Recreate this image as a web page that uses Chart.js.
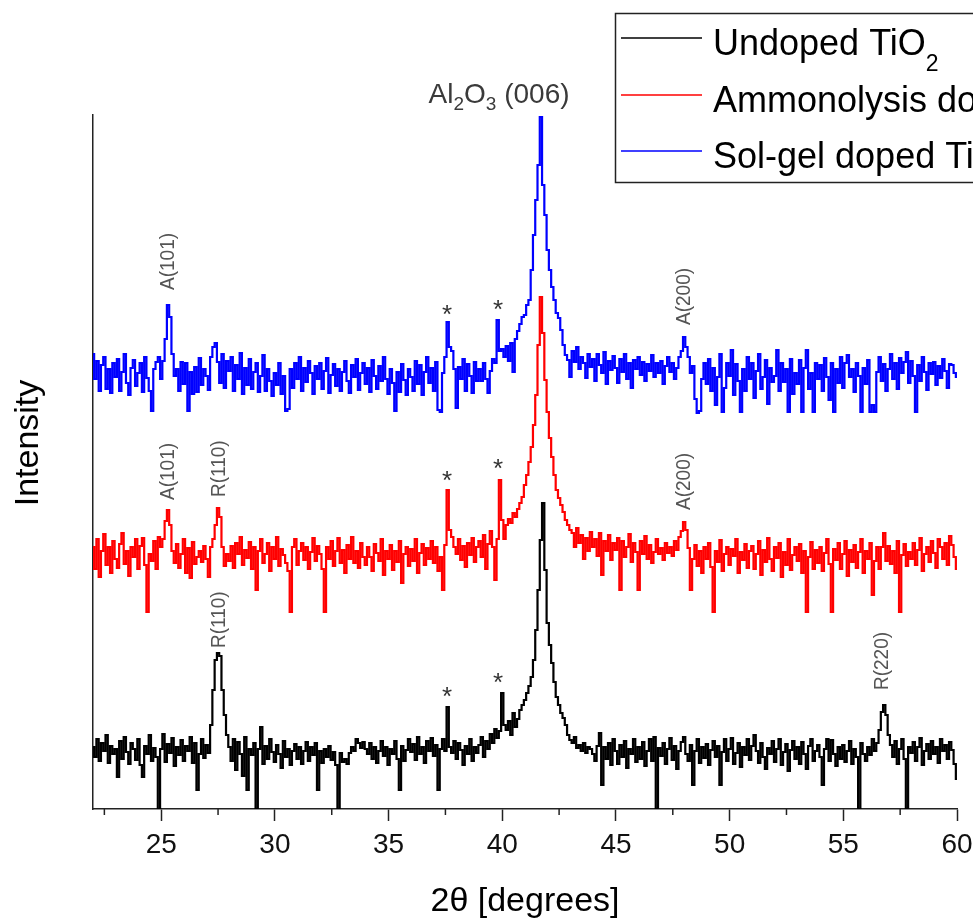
<!DOCTYPE html>
<html><head><meta charset="utf-8">
<script src="https://cdn.jsdelivr.net/npm/chart.js@4.4.0/dist/chart.umd.min.js"></script>
<style>html,body{margin:0;padding:0;background:#fff;}canvas{display:block;}</style>
</head><body>
<canvas id="c" width="973" height="920"></canvas>
<script>
// 2θ sampling grid (degrees), 0.1° steps from 22 to 60
const twoTheta = Array.from({length: 381}, (_, i) => Math.round((22 + i * 0.1) * 10) / 10);

const seriesNames = ['Undoped TiO2', 'Ammonolysis doped TiO2', 'Sol-gel doped TiO2'];

// Undoped TiO2 (black, bottom trace)
const undoped = [
 62, 52, 70, 48, 66, 58, 74, 46, 63, 55,
 60, 32, 68, 50, 72, 57, 45, 66, 60, 49,
 70, 44, 32, 63, 55, 74, 48, 61, 52, 0,
 60, 75, 47, 65, 56, 71, 43, 62, 54, 69,
 48, 63, 58, 72, 46, 66, 19, 55, 70, 51,
 64, 56, 84, 119, 149, 156, 153, 119, 94, 74,
 62, 48, 70, 39, 67, 55, 33, 72, 19, 60,
 54, 66, 0, 60, 82, 45, 63, 50, 70, 57,
 47, 64, 55, 41, 68, 52, 60, 44, 58, 65,
 50, 62, 45, 58, 67, 48, 62, 54, 66, 19,
 58, 46, 60, 52, 63, 49, 57, 44, 0, 56,
 47, 50, 45, 56, 62, 58, 70, 66, 61, 67,
 60, 55, 66, 50, 62, 46, 58, 68, 53, 62,
 44, 60, 55, 68, 50, 19, 63, 48, 59, 70,
 57, 65, 49, 72, 55, 62, 46, 68, 58, 71,
 53, 64, 19, 60, 70, 58, 102, 62, 56, 68,
 50, 66, 59, 44, 63, 55, 70, 48, 62, 56,
 64, 72, 52, 68, 60, 75, 66, 80, 71, 78,
 116, 84, 79, 88, 74, 96, 82, 90, 99, 104,
 109, 116, 123, 132, 149, 179, 219, 269, 306, 239,
 186, 164, 146, 127, 112, 104, 96, 91, 84, 74,
 69, 66, 72, 61, 64, 58, 66, 56, 62, 60,
 55, 48, 63, 76, 24, 62, 50, 66, 44, 70,
 58, 45, 64, 52, 68, 41, 60, 55, 70, 47,
 62, 50, 67, 43, 58, 70, 48, 72, 0, 61,
 53, 66, 45, 60, 71, 49, 63, 40, 58, 67,
 72, 55, 48, 64, 24, 58, 70, 46, 62, 51,
 65, 44, 59, 68, 52, 63, 24, 57, 70, 48,
 60, 71, 45, 56, 66, 42, 62, 54, 70, 49,
 63, 74, 58, 46, 66, 52, 40, 61, 55, 68,
 47, 60, 70, 44, 57, 65, 38, 59, 68, 50,
 62, 45, 67, 55, 40, 63, 70, 48, 58, 64,
 52, 24, 60, 70, 48, 69, 55, 43, 62, 50,
 64, 47, 58, 68, 45, 60, 52, 0, 66, 55,
 48, 62, 54, 70, 58, 66, 79, 97, 104, 94,
 74, 64, 52, 68, 45, 60, 70, 50, 0, 62,
 56, 67, 48, 62, 71, 44, 58, 65, 50, 68,
 55, 62, 46, 70, 58, 64, 50, 67, 59, 45,
 30
];

// Ammonolysis doped TiO2 (red, middle trace)
const ammonolysis = [
 262, 240, 270, 232, 258, 275, 244, 262, 236, 268,
 250, 241, 265, 276, 245, 258, 233, 262, 252, 270,
 240, 263, 271, 244, 197, 255, 248, 268, 240, 272,
 262, 270, 288, 299, 284, 258, 246, 265, 241, 255,
 270, 236, 261, 231, 267, 245, 252, 258, 247, 263,
 250, 232, 262, 270, 284, 301, 292, 262, 243, 255,
 248, 263, 241, 266, 255, 272, 244, 259, 251, 267,
 240, 262, 219, 258, 270, 246, 255, 266, 238, 262,
 250, 272, 243, 260, 254, 246, 238, 197, 262, 270,
 244, 258, 266, 249, 262, 240, 257, 271, 248, 263,
 255, 240, 197, 262, 250, 268, 243, 258, 271, 246,
 259, 236, 264, 250, 272, 246, 258, 241, 266, 252,
 244, 262, 252, 238, 265, 256, 248, 270, 234, 258,
 250, 264, 239, 258, 247, 268, 226, 255, 262, 243,
 260, 248, 270, 236, 256, 265, 244, 261, 250, 268,
 246, 262, 238, 252, 219, 264, 319, 279, 272, 262,
 255, 270, 249, 263, 242, 266, 254, 271, 247, 262,
 268, 252, 274, 240, 265, 278, 262, 229, 270, 329,
 289, 270, 284, 290, 286, 296, 292, 300, 306, 312,
 324, 334, 347, 362, 384, 414, 464, 512, 476, 429,
 397, 371, 352, 334, 319, 311, 304, 297, 289, 284,
 279, 276, 262, 281, 266, 274, 250, 271, 258, 277,
 262, 270, 253, 276, 234, 268, 258, 274, 249, 266,
 259, 271, 219, 268, 252, 262, 275, 247, 266, 257,
 219, 268, 255, 273, 250, 264, 246, 257, 270, 255,
 261, 249, 266, 256, 262, 253, 268, 259, 272, 278,
 287, 279, 261, 219, 250, 264, 243, 258, 236, 262,
 250, 266, 242, 197, 258, 247, 269, 238, 255, 262,
 244, 260, 253, 270, 236, 257, 249, 265, 241, 258,
 263, 240, 255, 268, 234, 259, 247, 271, 250, 238,
 262, 251, 266, 232, 257, 244, 270, 239, 254, 262,
 248, 265, 236, 258, 197, 252, 267, 240, 259, 246,
 262, 238, 256, 270, 245, 197, 260, 249, 266, 240,
 255, 268, 233, 259, 247, 264, 241, 257, 270, 236,
 258, 250, 266, 214, 248, 262, 240, 262, 276, 248,
 263, 245, 258, 236, 268, 197, 254, 265, 243, 257,
 250, 266, 244, 259, 271, 238, 255, 262, 247, 268,
 256, 241, 270, 262, 250, 266, 244, 273, 264, 252,
 240
];

// Sol-gel doped TiO2 (blue, top trace)
const solgel = [
 455, 430, 448, 418, 444, 452, 420, 440, 416, 446,
 432, 450, 418, 437, 455, 426, 414, 441, 449, 423,
 436, 446, 417, 452, 431, 418, 398, 440, 447, 452,
 430, 448, 470, 504, 492, 455, 433, 440, 418, 447,
 425, 446, 398, 437, 415, 442, 417, 451, 424, 440,
 433, 419, 452, 462, 466, 447, 426, 455, 421, 448,
 438, 452, 418, 444, 430, 456, 415, 441, 424, 450,
 420, 437, 446, 417, 433, 454, 418, 440, 428, 413,
 436, 424, 446, 415, 433, 398, 400, 440, 421, 446,
 430, 452, 418, 441, 427, 448, 436, 415, 443, 430,
 446, 420, 438, 451, 416, 434, 445, 423, 440, 418,
 437, 448, 428, 416, 444, 432, 450, 419, 436, 446,
 425, 441, 417, 449, 433, 420, 443, 428, 452, 430,
 415, 440, 426, 398, 437, 417, 445, 429, 414, 440,
 432, 418, 448, 425, 444, 414, 437, 452, 426, 441,
 418, 447, 399, 397, 436, 452, 487, 462, 458, 440,
 401, 442, 430, 450, 418, 445, 433, 416, 447, 428,
 440, 428, 446, 430, 416, 438, 450, 446, 489, 458,
 460, 452, 463, 448, 466, 437, 470, 478, 485, 492,
 494, 504, 509, 539, 574, 609, 644, 692, 624, 594,
 559, 539, 522, 509, 496, 491, 479, 464, 454, 449,
 432, 458, 447, 462, 440, 452, 446, 431, 455, 442,
 450, 428, 455, 444, 436, 457, 425, 448, 439, 453,
 441, 426, 450, 437, 455, 430, 446, 421, 449, 440,
 452, 434, 447, 428, 445, 438, 454, 432, 446, 436,
 448, 425, 443, 452, 437, 446, 430, 441, 452, 458,
 472, 462, 452, 436, 443, 410, 396, 398, 430, 446,
 425, 450, 418, 441, 404, 432, 455, 397, 421, 446,
 433, 459, 414, 445, 428, 397, 440, 418, 452, 430,
 446, 411, 438, 455, 420, 432, 449, 405, 441, 427,
 433, 459, 418, 446, 427, 440, 397, 450, 415, 436,
 425, 449, 397, 441, 459, 420, 436, 397, 446, 430,
 444, 418, 451, 432, 409, 446, 397, 440, 426, 452,
 421, 446, 454, 432, 440, 417, 446, 433, 397, 441,
 425, 449, 397, 404, 397, 437, 452, 428, 445, 418,
 440, 455, 430, 446, 420, 451, 436, 447, 457, 426,
 448, 433, 397, 444, 428, 452, 437, 419, 446, 435,
 447, 424, 443, 431, 450, 438, 421, 445, 444, 436,
 432
];

const xTickValues = [25, 30, 35, 40, 45, 50, 55, 60];
const xMinorTicks = [22.5, 27.5, 32.5, 37.5, 42.5, 47.5, 52.5, 57.5];

// peak annotations (2θ, intensity at the start of the rotated label)
const peakLabels = [
  {x: 25.3, y: 519, text: 'A(101)'},
  {x: 25.3, y: 309, text: 'A(101)'},
  {x: 27.55, y: 312, text: 'R(110)'},
  {x: 27.55, y: 161, text: 'R(110)'},
  {x: 48.0, y: 484, text: 'A(200)'},
  {x: 48.0, y: 299, text: 'A(200)'},
  {x: 56.72, y: 119, text: 'R(220)'}
];
const impurityStars = [
  {x: 37.57, y: 501}, {x: 39.81, y: 506},
  {x: 37.57, y: 335}, {x: 39.81, y: 347},
  {x: 37.57, y: 119}, {x: 39.81, y: 133}
];
const substrateLabel = {x: 39.86, y: 706, parts: [{t: 'Al'}, {t: '2', sub: true}, {t: 'O'}, {t: '3', sub: true}, {t: ' (006)'}]};

const FONT = '"Liberation Sans", Arial, Helvetica, sans-serif';
const colors = ['#000000', '#ff0000', '#0000ff'];
const legendParts = [
  [{t: 'Undoped TiO'}, {t: '2', sub: true}],
  [{t: 'Ammonolysis doped TiO'}, {t: '2', sub: true}],
  [{t: 'Sol-gel doped TiO'}, {t: '2', sub: true}]
];

function richText(ctx, parts, x, y, size, subSize, subDy, align) {
  const widths = parts.map(p => { ctx.font = (p.sub ? subSize : size) + 'px ' + FONT; return ctx.measureText(p.t).width; });
  const total = widths.reduce((a, b) => a + b, 0);
  let cx = align === 'center' ? x - total / 2 : x;
  ctx.textAlign = 'left';
  ctx.textBaseline = 'alphabetic';
  parts.forEach((p, i) => {
    ctx.font = (p.sub ? subSize : size) + 'px ' + FONT;
    ctx.fillText(p.t, cx, y + (p.sub ? subDy : 0));
    cx += widths[i];
  });
}

const decor = {
  id: 'decor',
  afterDraw(chart) {
    const ctx = chart.ctx, xs = chart.scales.x, ys = chart.scales.y;
    ctx.save();
    // minor ticks
    ctx.strokeStyle = '#222'; ctx.lineWidth = 1.5;
    xMinorTicks.forEach(v => {
      const px = xs.getPixelForValue(v);
      ctx.beginPath(); ctx.moveTo(px, ys.bottom); ctx.lineTo(px, ys.bottom + 6); ctx.stroke();
    });
    // peak labels
    ctx.fillStyle = '#555';
    ctx.font = '20px ' + FONT;
    ctx.textAlign = 'left'; ctx.textBaseline = 'middle';
    peakLabels.forEach(p => {
      ctx.save();
      ctx.translate(xs.getPixelForValue(p.x), ys.getPixelForValue(p.y));
      ctx.rotate(-Math.PI / 2);
      ctx.scale(0.95, 1);
      ctx.fillText(p.text, 0, 0);
      ctx.restore();
    });
    // stars
    ctx.fillStyle = '#333';
    ctx.font = '26px ' + FONT;
    ctx.textAlign = 'center'; ctx.textBaseline = 'alphabetic';
    impurityStars.forEach(s => ctx.fillText('*', xs.getPixelForValue(s.x), ys.getPixelForValue(s.y) + 15));
    // Al2O3 (006)
    ctx.fillStyle = '#3a3a3a';
    richText(ctx, substrateLabel.parts, xs.getPixelForValue(substrateLabel.x), ys.getPixelForValue(substrateLabel.y), 28, 19, 7, 'center');
    // y title
    ctx.fillStyle = '#000';
    ctx.font = '34px ' + FONT;
    ctx.save();
    ctx.translate(29, 443);
    ctx.rotate(-Math.PI / 2);
    ctx.textAlign = 'center'; ctx.textBaseline = 'middle';
    ctx.fillText('Intensity', 0, 0);
    ctx.restore();
    // legend
    ctx.strokeStyle = '#222'; ctx.lineWidth = 1.5;
    ctx.strokeRect(615.5, 13.5, 420, 169);
    const rowsBase = [55, 112, 168];
    rowsBase.forEach((b, i) => {
      ctx.strokeStyle = colors[i]; ctx.lineWidth = 1.5;
      ctx.beginPath(); ctx.moveTo(621, b - 17); ctx.lineTo(702, b - 17); ctx.stroke();
      ctx.fillStyle = '#000';
      richText(ctx, legendParts[i], 713, b, 36, 23, 16, 'left');
    });
    ctx.restore();
  }
};

const series = [undoped, ammonolysis, solgel];
new Chart(document.getElementById('c'), {
  type: 'line',
  data: {
    datasets: series.map((vals, i) => ({
      label: seriesNames[i],
      data: vals.map((v, k) => ({x: twoTheta[k], y: v})),
      borderColor: colors[i],
      borderWidth: 2.2,
      pointRadius: 0,
      stepped: 'middle',
      fill: false
    }))
  },
  options: {
    responsive: false,
    animation: false,
    devicePixelRatio: 1,
    layout: {padding: {top: 115, right: 16, left: 0, bottom: 0}},
    plugins: {legend: {display: false}, tooltip: {enabled: false}},
    scales: {
      x: {
        type: 'linear', position: 'bottom', min: 22, max: 60,
        afterBuildTicks: s => { s.ticks = xTickValues.map(v => ({value: v})); },
        afterFit: s => { s.height = 111; s.paddingLeft = 0; s.paddingRight = 0; },
        ticks: {font: {family: FONT, size: 28}, color: '#111', padding: 7, maxRotation: 0, autoSkip: false},
        grid: {display: true, drawOnChartArea: false, drawTicks: true, tickLength: 12, tickColor: '#222', tickWidth: 1.5, color: '#222'},
        border: {display: true, color: '#222', width: 1.5},
        title: {display: true, text: '2θ [degrees]', color: '#000', font: {family: FONT, size: 34, lineHeight: 1}, padding: {top: 0, bottom: 1}}
      },
      y: {
        type: 'linear', min: 0, max: 694,
        afterFit: s => { s.width = 93; s.paddingTop = 0; s.paddingBottom = 0; },
        ticks: {display: false},
        grid: {display: false},
        border: {display: true, color: '#222', width: 1.5}
      }
    }
  },
  plugins: [decor]
});
</script>
</body></html>
